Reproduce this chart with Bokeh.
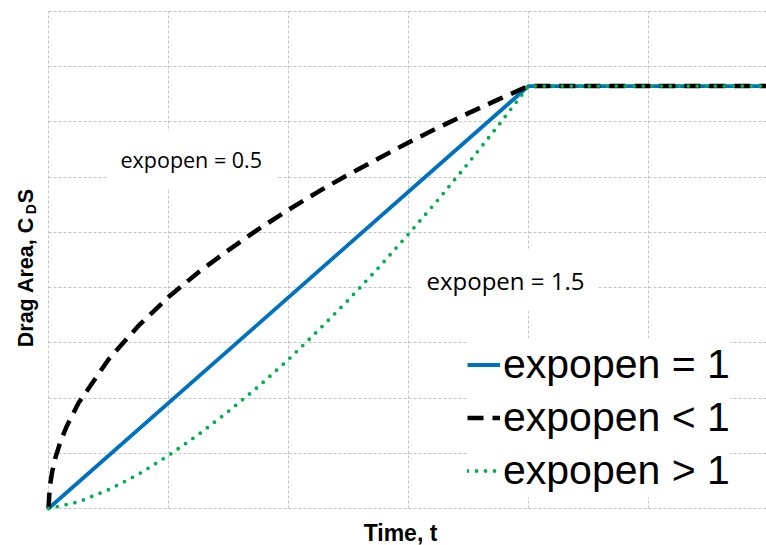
import math
from bokeh.plotting import figure
from bokeh.models import Label, Legend, LegendItem, FixedTicker
from bokeh.embed import file_html
from bokeh.resources import INLINE

# ---- data ----
time_eq1 = [0, 4, 6]
area_eq1 = [0, 7.65, 7.65]

time_lt1 = [0, 0.01, 0.03, 0.06, 0.1, 0.15, 0.25, 0.5, 0.75, 1, 1.25, 1.5, 1.75,
            2, 2.25, 2.5, 2.75, 3, 3.25, 3.5, 3.75, 4, 6]
area_lt1 = [0, 0.38, 0.66, 0.94, 1.21, 1.48, 1.91, 2.70, 3.31, 3.83, 4.28, 4.68, 5.06,
            5.41, 5.74, 6.05, 6.34, 6.63, 6.90, 7.16, 7.41, 7.65, 7.65]

time_gt1 = [0, 0.25, 0.5, 0.75, 1, 1.25, 1.5, 1.75, 2, 2.25, 2.5, 2.75, 3, 3.25,
            3.5, 3.75, 4, 6]
area_gt1 = [0, 0.12, 0.34, 0.62, 0.96, 1.34, 1.76, 2.21, 2.70, 3.23, 3.78, 4.36,
            4.97, 5.60, 6.26, 6.94, 7.65, 7.65]

x_ticks = [0, 1, 2, 3, 4, 5, 6]
y_ticks = [0, 1, 2, 3, 4, 5, 6, 7, 8, 9]
x_max = 5.983
y_max = 9

legend_labels = ["expopen = 1", "expopen < 1", "expopen > 1"]
note_low = "expopen = 0.5"
note_high = "expopen = 1.5"
x_title = "Time, t"

BLUE = "#0070C0"
BLACK = "#000000"
GREEN = "#00B050"

p = figure(width=766, height=545, x_range=(-0.4, x_max), y_range=(-0.670, 9.200),
           output_backend="svg", toolbar_location=None,
           min_border_left=0, min_border_right=0, min_border_top=0, min_border_bottom=0)
p.outline_line_color = None
p.xaxis.visible = False
p.yaxis.visible = False
p.xaxis.ticker = FixedTicker(ticks=x_ticks)
p.yaxis.ticker = FixedTicker(ticks=y_ticks)
p.xgrid.bounds = (0, 6)
p.xgrid.cross_bounds = (0, y_max)
p.ygrid.bounds = (0, y_max)
p.ygrid.cross_bounds = (0, x_max)
for g in (p.xgrid, p.ygrid):
    g.grid_line_color = "#C4C4C4"
    g.grid_line_dash = "3 2"
    g.grid_line_width = 1

r1 = p.line(time_eq1, area_eq1, line_color=BLUE, line_width=3.8)
r2 = p.line(time_lt1, area_lt1, line_color=BLACK, line_width=4.5, line_dash="16 9")
r3 = p.line(time_gt1, area_gt1, line_color=GREEN, line_width=3.8, line_dash="0 9",
            line_cap="round")

legend = Legend(items=[LegendItem(label=legend_labels[0], renderers=[r1]),
                       LegendItem(label=legend_labels[1], renderers=[r2]),
                       LegendItem(label=legend_labels[2], renderers=[r3])],
                location=(467, 48), padding=4, margin=0, spacing=0,
                glyph_width=33, glyph_height=53, label_height=53, label_standoff=3,
                label_text_font="Liberation Sans", label_text_font_size="41px",
                label_text_color="black",
                background_fill_color="white", background_fill_alpha=1,
                border_line_color=None)
p.add_layout(legend, "center")

p.add_layout(Label(x=0.483, y=6.32, text=note_low, text_font="Open Sans",
                   text_font_size="21.5px", text_color="black",
                   text_baseline="middle", text_align="left",
                   background_fill_color="white", padding=14))
p.add_layout(Label(x=3.033, y=4.127, text=note_high, text_font="Open Sans",
                   text_font_size="24px", text_color="black",
                   text_baseline="middle", text_align="left",
                   background_fill_color="white", padding=14))

# axis titles
p.add_layout(Label(x=2.933, y=-0.45, text=x_title, text_font="Liberation Sans",
                   text_font_style="bold", text_font_size="23px", text_color="black",
                   text_align="center", text_baseline="middle"))
ang = math.pi / 2
p.add_layout(Label(x=-0.19, y=2.92, text="Drag Area, C", angle=ang,
                   text_font="Liberation Sans", text_font_style="bold", text_color="black",
                   text_font_size="21.5px", text_align="left", text_baseline="middle"))
p.add_layout(Label(x=-0.147, y=5.33, text="D", angle=ang,
                   text_font="Liberation Sans", text_font_style="bold", text_color="black",
                   text_font_size="14px", text_align="left", text_baseline="middle"))
p.add_layout(Label(x=-0.19, y=5.53, text="S", angle=ang,
                   text_font="Liberation Sans", text_font_style="bold", text_color="black",
                   text_font_size="21.5px", text_align="left", text_baseline="middle"))

open("out.html", "w").write(file_html(p, INLINE))
